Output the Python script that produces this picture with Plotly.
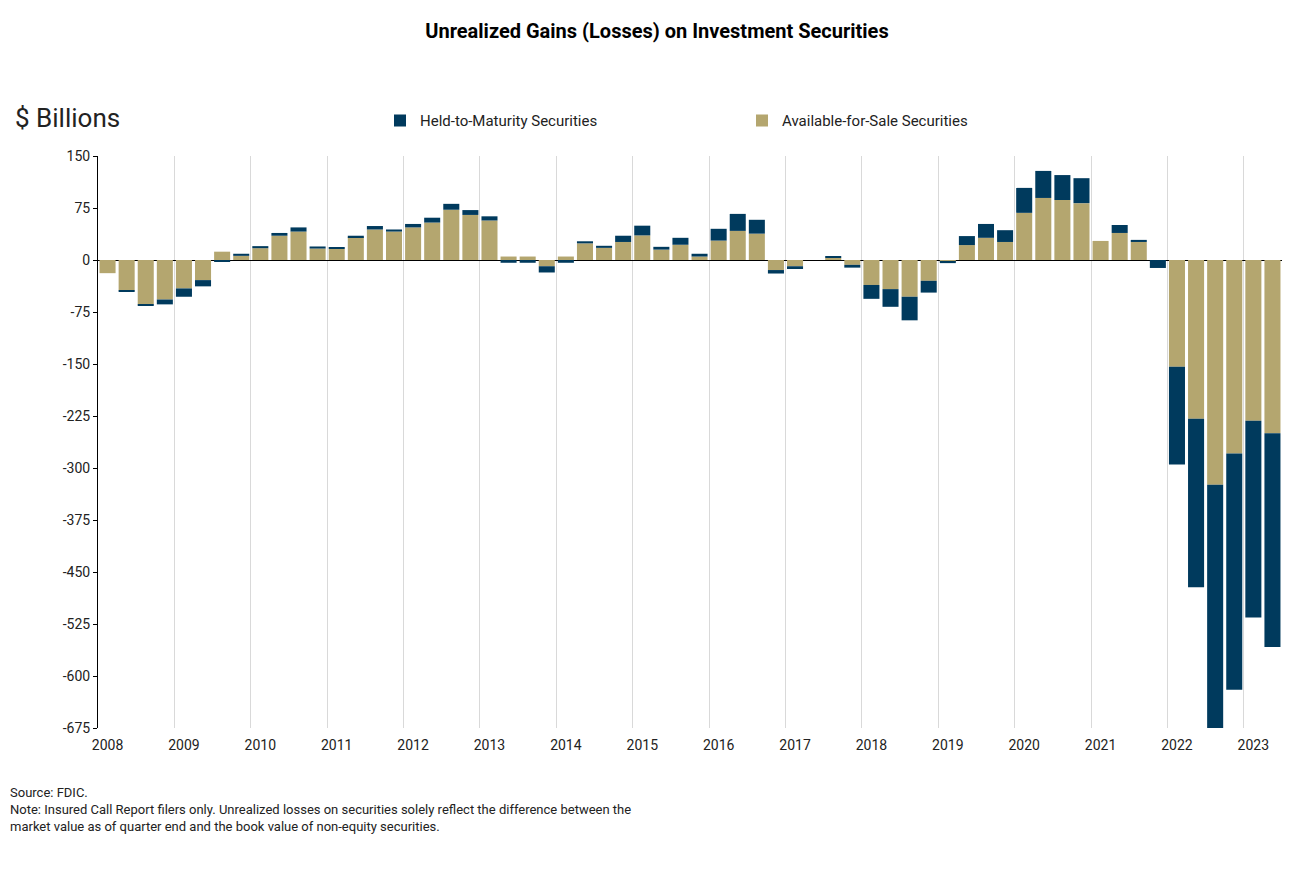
import plotly.graph_objects as go

# ---------------- data ----------------
years = list(range(2008, 2024))
quarters = [f"{y}Q{q}" for y in years for q in range(1, 5)][:62]  # 2008Q1 .. 2023Q2

afs = [
    -19, -44, -64, -57,      # 2008
    -41, -29, 12, 6,         # 2009
    17, 35, 41, 16.5,        # 2010
    16, 33, 44, 41,          # 2011
    47, 54, 72.5, 65,        # 2012
    57, 5, 5, -9,            # 2013
    5, 24, 17.5, 26,         # 2014
    35.5, 15, 22, 5,         # 2015
    28, 42, 38, -14.5,       # 2016
    -9, 0, 3, -7,            # 2017
    -36, -42, -53, -30,      # 2018
    -2, 21.5, 32, 26,        # 2019
    68, 89.5, 86.5, 82,      # 2020
    27.5, 39, 26, 0,         # 2021
    -154, -229, -324, -279,  # 2022
    -232, -250,              # 2023
]
htm = [
    0, -1.5, -1, -7,
    -12, -9, -2, 3,
    3, 4, 6, 3,
    1.5, 2, 5, 3,
    5, 7, 8.5, 7,
    6, -4, -4, -9,
    -4, 3, 3, 9,
    14, 4, 10, 4,
    17, 24.5, 20, -5,
    -4, 0, 1.5, -4,
    -20, -25.5, -34, -17,
    -2.5, 13, 20, 17,
    36, 39, 36, 36,
    0, 11.5, 3, -11.5,
    -141, -243, -366, -341,
    -283.5, -308,
]

year_labels = [str(y) for y in years]
y_tickvals = [150, 75, 0, -75, -150, -225, -300, -375, -450, -525, -600, -675]
y_ticktext = ["150", "75", "0", "-75", "-150", "-225", "-300", "-375", "-450", "-525", "-600", "-675"]

# ---------------- layout helpers ----------------
FONT = "Roboto"
AFS_COLOR = "#B4A66F"
HTM_COLOR = "#003A5D"
TXT = "#222222"

x = list(range(len(quarters)))
year_pos = [i for i, q in enumerate(quarters) if q.endswith("Q1")]
boundaries = [p - 0.5 for p in year_pos[1:]]

OFF = 8  # page body margin
W, H = 1310, 876
L = 98 - OFF
T = 156.3 - OFF
R = W - (1282 - OFF)
B = H - (728.3 - OFF)
plot_w = W - L - R
plot_h = H - T - B


def px_x(px):  # screen pixel -> paper fraction
    return (px - OFF - L) / plot_w


def px_y(py):
    return (H - B - (py - OFF)) / plot_h


fig = go.Figure()
fig.add_trace(go.Bar(
    x=x, y=afs, name="Available-for-Sale Securities",
    marker=dict(color=AFS_COLOR, line=dict(width=0)),
    customdata=quarters, hovertemplate="%{customdata}: %{y}<extra>AFS</extra>",
))
fig.add_trace(go.Bar(
    x=x, y=htm, name="Held-to-Maturity Securities",
    marker=dict(color=HTM_COLOR, line=dict(width=0)),
    customdata=quarters, hovertemplate="%{customdata}: %{y}<extra>HTM</extra>",
))

zero_pos = (0 - y_tickvals[-1]) / (y_tickvals[0] - y_tickvals[-1])

fig.update_layout(
    width=W, height=H,
    margin=dict(l=L, r=R, t=T, b=B, autoexpand=False),
    paper_bgcolor="white", plot_bgcolor="white",
    barmode="relative", bargap=0.16,
    font=dict(family=FONT, color=TXT, size=14),
    title=dict(
        text="<b>Unrealized Gains (Losses) on Investment Securities</b>",
        x=(657 - OFF) / W, xref="container", xanchor="center",
        y=1 - (31 - OFF) / H, yref="container", yanchor="middle",
        font=dict(family=FONT, size=20, color="#000000"),
    ),
    showlegend=True,
    legend=dict(
        orientation="h", traceorder="reversed",
        x=px_x(380), xanchor="left", y=px_y(121), yanchor="middle",
        font=dict(family=FONT, size=15, color=TXT),
        entrywidth=317, entrywidthmode="pixels",
        bgcolor="rgba(0,0,0,0)", itemclick=False, itemdoubleclick=False,
    ),
    xaxis=dict(
        range=[-0.5, len(quarters) - 0.5],
        tickmode="array", tickvals=year_pos, ticktext=year_labels,
        ticks="", showgrid=False, showline=False, zeroline=False,
        ticklabelstandoff=7,
        tickfont=dict(family=FONT, size=14, color=TXT),
        minor=dict(tickmode="array", tickvals=boundaries, showgrid=True,
                   gridcolor="#D9D9D9", gridwidth=1, ticks=""),
        fixedrange=True,
    ),
    xaxis2=dict(
        overlaying="x", matches="x", anchor="free", position=zero_pos,
        range=[-0.5, len(quarters) - 0.5],
        tickmode="array", tickvals=boundaries, ticks="outside", ticklen=4,
        tickcolor="#000000", tickwidth=1,
        showticklabels=False, showgrid=False, showline=False, zeroline=False,
    ),
    yaxis=dict(
        range=[y_tickvals[-1], y_tickvals[0]],
        tickmode="array", tickvals=y_tickvals, ticktext=y_ticktext,
        ticks="outside", ticklen=4, tickcolor="#000000", tickwidth=1,
        showline=True, linecolor="#000000", linewidth=1,
        showgrid=False, zeroline=True, zerolinecolor="#000000", zerolinewidth=1,
        tickfont=dict(family=FONT, size=14, color=TXT),
        fixedrange=True,
    ),
)

fig.add_annotation(
    text="$ Billions", xref="paper", yref="paper",
    x=px_x(13), y=px_y(118), xanchor="left", yanchor="middle",
    showarrow=False, font=dict(family=FONT, size=26, color=TXT),
)

notes = [
    "Source: FDIC.",
    "Note: Insured Call Report filers only. Unrealized losses on securities solely reflect the difference between the",
    "market value as of quarter end and the book value of non-equity securities.",
]
for k, line in enumerate(notes):
    fig.add_annotation(
        text=line, xref="paper", yref="paper",
        x=px_x(8), y=px_y(793 + 17 * k), xanchor="left", yanchor="middle",
        showarrow=False, font=dict(family=FONT, size=13, color=TXT),
    )

fig.write_html("out.html")
